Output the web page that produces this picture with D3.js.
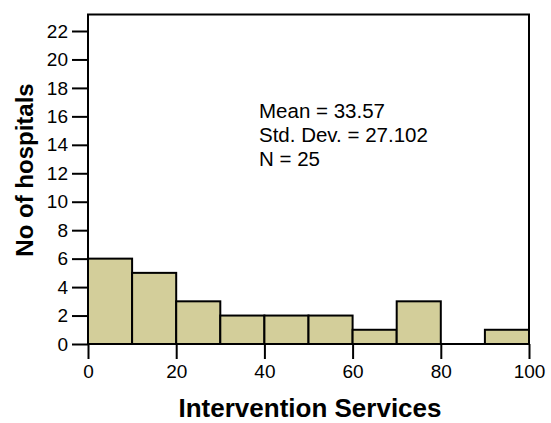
<!DOCTYPE html>
<html><head><meta charset="utf-8">
<script src="https://cdn.jsdelivr.net/npm/d3@7"></script>
<style>body{margin:0;background:#fff}svg{display:block}text{font-family:"Liberation Sans",Arial,sans-serif}</style>
</head><body>
<script>
const binStarts = [0,10,20,30,40,50,60,70,80,90];
const binWidth = 10;
const counts = [6,5,3,2,2,2,1,3,0,1];
const yTicks = [0,2,4,6,8,10,12,14,16,18,20,22];
const xTicks = [0,20,40,60,80,100];
const stats = ["Mean = 33.57","Std. Dev. = 27.102","N = 25"];

(function(){
const W=551,H=423;
const svg=d3.select("body").append("svg").attr("width",W).attr("height",H);
const x=d3.scaleLinear().domain([0,100]).range([88,529]);
const y=d3.scaleLinear().domain([0,22]).range([344,31]);
const frameTop=14.5;

const bars=svg.append("g");
bars.selectAll("rect").data(counts.map((c,i)=>({s:binStarts[i],c})).filter(d=>d.c>0))
  .join("rect")
  .attr("x",d=>x(d.s)).attr("y",d=>y(d.c))
  .attr("width",d=>x(d.s+binWidth)-x(d.s))
  .attr("height",d=>y(0)-y(d.c))
  .attr("fill","#d3ce9a").attr("stroke","#000").attr("stroke-width",2);

svg.append("rect").attr("x",x(0)).attr("y",frameTop).attr("width",x(100)-x(0)).attr("height",y(0)-frameTop)
  .attr("fill","none").attr("stroke","#000").attr("stroke-width",2);

const ya=svg.append("g").attr("transform",`translate(${x(0)},0)`)
  .call(d3.axisLeft(y).tickValues(yTicks).tickSize(16).tickPadding(4));
const xa=svg.append("g").attr("transform",`translate(0,${y(0)})`)
  .call(d3.axisBottom(x).tickValues(xTicks).tickSize(15).tickPadding(6));
[ya,xa].forEach(g=>{
  g.select(".domain").remove();
  g.selectAll(".tick line").attr("stroke","#000").attr("stroke-width",2);
  g.selectAll(".tick text").attr("fill","#000").style("font-size","19px").style("font-family","Liberation Sans, Arial, sans-serif");
});

svg.append("text").attr("x",310).attr("y",417).attr("text-anchor","middle")
  .style("font-size","26px").style("font-weight","bold").text("Intervention Services");
svg.append("text").attr("transform","translate(33,170) rotate(-90)").attr("text-anchor","middle")
  .style("font-size","24px").style("font-weight","bold").text("No of hospitals");

svg.append("g").selectAll("text").data(stats).join("text")
  .attr("x",259).attr("y",(d,i)=>117.5+i*24.4).style("font-size","20.5px").text(d=>d);
})();
</script>
</body></html>
